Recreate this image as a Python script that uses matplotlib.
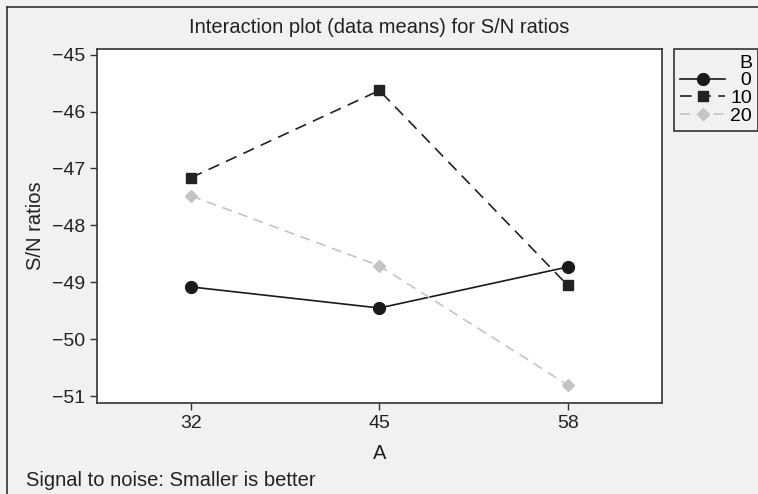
import matplotlib
matplotlib.use("Agg")
import matplotlib.pyplot as plt
from matplotlib.lines import Line2D

plt.rcParams["font.family"] = ["Liberation Sans", "DejaVu Sans"]

# data
a_levels = ["32", "45", "58"]
b_levels = ["0", "10", "20"]
sn_b0 = [-49.08, -49.45, -48.73]
sn_b10 = [-47.16, -45.63, -49.05]
sn_b20 = [-47.48, -48.71, -50.80]
y_ticks = [-45, -46, -47, -48, -49, -50, -51]

bg = "#f0f1f3"
fig = plt.figure(figsize=(7.58, 4.94), dpi=100, facecolor=bg)
ax = fig.add_axes([0.128, 0.184, 0.745, 0.717])

# pad one-digit labels with a figure space so the legend texts line up on the right
pad = lambda s: "\u2007" * (2 - len(s)) + s

x = list(range(len(a_levels)))
ax.plot(x, sn_b0, color="#1a1a1a", lw=1.2, marker="o", ms=8.5, label=pad(b_levels[0]))
ax.plot(x, sn_b10, color="#222222", lw=1.2, ls=(0, (7, 4.5)), marker="s", ms=7,
        label=pad(b_levels[1]))
ax.plot(x, sn_b20, color="#c4c4c4", lw=1.2, ls=(0, (6, 4)), marker="D", ms=6.5,
        label=pad(b_levels[2]))

ax.set_xlim(-0.5, 2.5)
ax.set_ylim(-51.12, -44.9)
ax.set_xticks(x)
ax.set_xticklabels(a_levels)
ax.set_yticks(y_ticks)
ax.set_yticklabels(["\u2212" + str(abs(v)) for v in y_ticks])
ax.tick_params(labelsize=14, length=5, width=1, color="#333333", labelcolor="#222222")
for s in ax.spines.values():
    s.set_color("#333333")
    s.set_linewidth(1.2)

ax.set_xlabel("A", fontsize=14.5, color="#222222", labelpad=9)
ax.set_ylabel("S/N ratios", fontsize=14.5, color="#222222", labelpad=5)
fig.text(0.5, 0.945, "Interaction plot (data means) for S/N ratios",
         ha="center", va="center", fontsize=14.5, color="#222222")
fig.text(0.034, 0.028, "Signal to noise: Smaller is better",
         ha="left", va="center", fontsize=14.5, color="#222222")

leg = fig.legend(loc="upper left", bbox_to_anchor=(0.889, 0.9008),
                 title="B", fontsize=14, title_fontsize=14, alignment="right",
                 frameon=True, fancybox=False, edgecolor="#333333",
                 facecolor=bg, framealpha=1,
                 handlelength=2.35, handletextpad=0.25,
                 borderpad=0.3, labelspacing=0.0, borderaxespad=0)
leg.get_frame().set_linewidth(1.2)

# open frame around the figure (left and top edges)
fig.add_artist(Line2D([0.009, 0.009], [0, 0.986], color="#333333", lw=1.2))
fig.add_artist(Line2D([0.009, 1], [0.986, 0.986], color="#333333", lw=1.2))

fig.savefig("out.png", dpi=100, facecolor=bg)
